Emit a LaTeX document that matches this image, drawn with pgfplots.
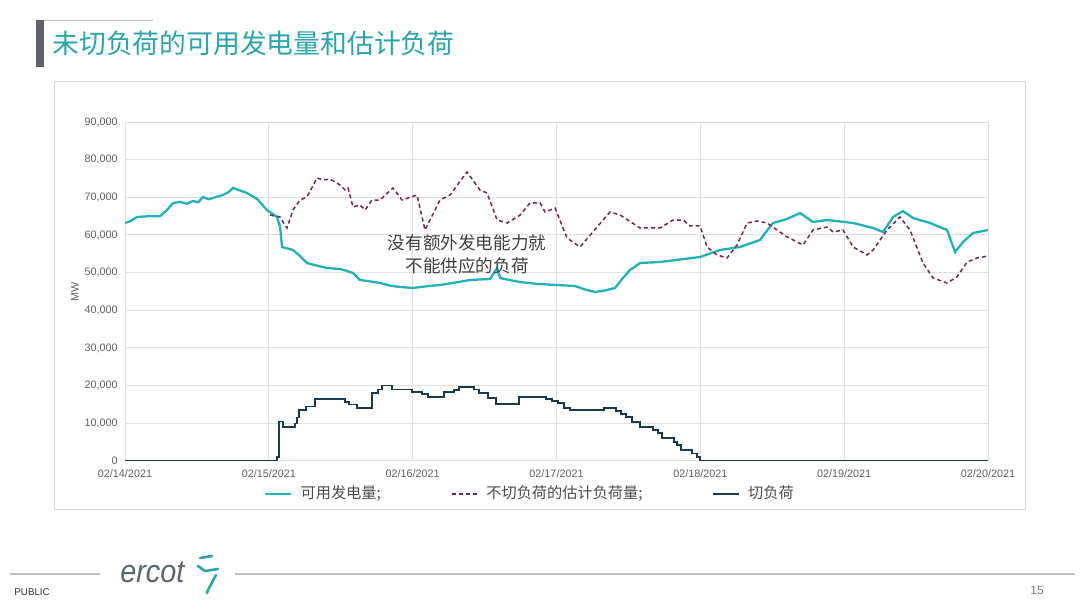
\documentclass[border=0pt]{standalone}
\usepackage{fontspec}
\setmainfont{Liberation Sans}
\newfontfamily\cjk{Noto Sans CJK SC}
\usepackage{pgfplots}
\pgfplotsset{compat=1.18}
\definecolor{cyanA}{HTML}{22B1B4}
\definecolor{loadM}{HTML}{73245A}
\definecolor{shedN}{HTML}{1C3A4F}
\definecolor{gridG}{HTML}{E0E0E0}
\definecolor{tickG}{HTML}{606060}
\definecolor{titleT}{HTML}{2BA5A9}
\definecolor{barG}{HTML}{5F6369}
\definecolor{lineG}{HTML}{BFBFBF}
\definecolor{logoG}{HTML}{5C6670}
\definecolor{frameG}{HTML}{D6D6D6}
\begin{document}
\begin{tikzpicture}
\fill[white] (0,0) rectangle (540pt,304pt);
% title
\fill[barG] (18pt,270.5pt) rectangle (22pt,294pt);
\draw[lineG, line width=0.6pt] (22pt,293.6pt) -- (76.5pt,293.6pt);
\node[anchor=west, inner sep=0pt, text=titleT, font=\cjk\fontsize{13.4pt}{16pt}\selectfont] at (26pt,282.5pt) {未切负荷的可用发电量和估计负荷};
% chart frame
\draw[frameG, line width=0.5pt] (27pt,49pt) rectangle (512.5pt,263pt);
% footer
\draw[lineG, line width=0.6pt] (5pt,17pt) -- (50pt,17pt);
\draw[lineG, line width=0.6pt] (117.5pt,17pt) -- (537.5pt,17pt);
\node[anchor=west, inner sep=0pt, font=\fontsize{4.9pt}{6pt}\selectfont, text=black!80] at (7pt,8pt) {PUBLIC};
\node[anchor=west, inner sep=0pt, font=\fontsize{6pt}{7pt}\selectfont, text=gray] at (515pt,9pt) {15};
\node[anchor=west, inner sep=0pt, font=\itshape\fontsize{16pt}{17pt}\selectfont, text=logoG, xscale=0.9] at (60pt,18pt) {ercot};
\draw[titleT, line width=1.3pt, line cap=round] (100pt,25pt) -- (106pt,26pt);
\draw[titleT, line width=1.3pt, line cap=round, line join=round] (99pt,21pt) -- (102.5pt,18.5pt) -- (109pt,19.5pt);
\draw[titleT, line width=1.3pt, line cap=round, line join=round] (108pt,16.5pt) -- (104pt,9pt) -- (103.5pt,7.5pt);
\begin{axis}[
  at={(62.5pt,73.5pt)}, anchor=south west,
  scale only axis, width=431.5pt, height=169.5pt,
  xmin=0, xmax=6, ymin=0, ymax=90000,
  xtick={0,1,2,3,4,5,6},
  xticklabels={02/14/2021,02/15/2021,02/16/2021,02/17/2021,02/18/2021,02/19/2021,02/20/2021},
  ytick={0,10000,20000,30000,40000,50000,60000,70000,80000,90000},
  scaled y ticks=false,
  /pgf/number format/fixed,
  /pgf/number format/1000 sep={,},
  /pgf/number format/assume math mode=true,
  grid=major, major grid style={draw=gridG, line width=0.5pt},
  axis line style={draw=none},
  major tick length=0pt,
  tick label style={font=\fontsize{5.4pt}{6pt}\selectfont, text=tickG},
  y tick label style={inner sep=0pt, xshift=-3.5pt},
  x tick label style={inner sep=0pt, yshift=-4pt},
  ylabel={MW},
  ylabel style={font=\fontsize{5.4pt}{6pt}\selectfont, text=tickG, at={(axis description cs:-0.058,0.5)}, anchor=center},
  legend columns=3,
  legend style={at={(0.161,-0.097)}, anchor=west, draw=none, fill=none, inner sep=0pt,
    font=\cjk\fontsize{7.6pt}{8.5pt}\selectfont, text=black!70,
    /tikz/every even column/.append style={column sep=33pt}},
  legend image code/.code={\draw[#1] (0pt,0pt) -- (13pt,0pt); \path (15pt,0pt);},
]
\addplot[cyanA, line width=1.15pt] coordinates {
(0.000,63190)(0.040,63700)(0.083,64780)(0.130,64900)(0.174,65000)(0.243,65000)(0.292,66640)(0.334,68500)(0.382,68760)
(0.430,68300)(0.473,69030)(0.510,68700)(0.542,70090)(0.580,69500)(0.612,69820)(0.650,70300)(0.681,70620)(0.720,71400)(0.751,72480)(0.800,71800)
(0.848,71150)(0.918,69560)(0.987,66640)(1.057,64780)(1.078,62120)(1.092,56820)(1.168,56020)(1.220,54300)(1.265,52570)
(1.330,51900)(1.404,51240)(1.495,50970)(1.540,50500)(1.585,49910)(1.634,48050)(1.700,47700)(1.773,47260)(1.850,46500)(1.912,46200)(2.002,45930)
(2.100,46400)(2.190,46730)(2.300,47400)(2.399,48050)(2.470,48200)(2.538,48320)(2.587,51240)(2.608,48580)(2.680,48000)(2.747,47520)(2.870,47000)
(2.997,46730)(3.129,46460)(3.200,45500)(3.268,44870)(3.340,45300)(3.407,45930)(3.460,48500)(3.511,50710)(3.581,52570)(3.720,52830)
(3.860,53500)(3.998,54160)(4.137,56020)(4.276,56820)(4.415,58670)(4.460,61000)(4.505,63190)(4.603,64250)(4.693,65840)(4.783,63450)
(4.881,63980)(5.062,63190)(5.201,61860)(5.270,60800)(5.340,64780)(5.409,66370)(5.479,64510)(5.597,63190)(5.715,61330)
(5.771,55490)(5.830,58300)(5.896,60530)(6.000,61330)};
\addlegendentry{可用发电量;}
\addplot[loadM, line width=0.75pt, dash pattern=on 2pt off 1.5pt] coordinates {
(1.008,65310)(1.078,64780)(1.126,61860)(1.168,66640)(1.217,69290)(1.265,70090)(1.335,75130)(1.377,74600)(1.425,74870)
(1.495,73280)(1.530,71950)(1.551,72480)(1.585,67440)(1.634,67970)(1.669,66640)(1.717,69290)(1.773,69290)(1.863,72480)
(1.926,69290)(2.030,70620)(2.086,61330)(2.190,69290)(2.260,70620)(2.378,76730)(2.468,71950)(2.517,71150)(2.587,63980)
(2.657,63190)(2.747,65310)(2.816,68500)(2.886,68500)(2.920,66110)(2.990,67170)(3.073,59210)(3.164,56820)(3.282,62120)
(3.372,66110)(3.442,65310)(3.581,61860)(3.720,61860)(3.810,63980)(3.880,63980)(3.928,62390)(3.998,62390)(4.047,56820)
(4.116,54690)(4.186,53900)(4.255,57350)(4.325,63190)(4.394,63720)(4.464,63190)(4.533,61330)(4.603,59470)(4.714,57350)
(4.783,61330)(4.881,62120)(4.923,60800)(4.992,61330)(5.062,56820)(5.159,54690)(5.201,56020)(5.298,61330)(5.388,64780)
(5.458,61330)(5.548,52570)(5.618,48580)(5.715,47260)(5.784,48850)(5.854,52830)(5.924,53900)(6.000,54420)};
\addlegendentry{不切负荷的估计负荷量;}
\addplot[shedN, line width=0.8pt, const plot] coordinates {
(0,0)(1.029,0)(1.057,1000)(1.071,10500)(1.099,9000)(1.182,10000)(1.196,11500)(1.210,13500)(1.258,14500)(1.321,16500)
(1.530,15700)(1.557,15000)(1.613,14000)(1.717,18000)(1.759,19000)(1.787,20000)(1.856,19000)(1.996,18300)(2.065,17800)
(2.107,17000)(2.218,18300)(2.287,18800)(2.322,19600)(2.427,19000)(2.461,18000)(2.524,16700)(2.580,15100)(2.739,17000)
(2.927,16500)(2.969,16000)(3.011,15400)(3.052,14000)(3.094,13500)(3.331,14000)(3.414,13300)(3.449,12500)(3.483,11700)
(3.525,10400)(3.581,9000)(3.671,8200)(3.706,7400)(3.734,6100)(3.817,5000)(3.838,4200)(3.866,2900)(3.942,2000)
(3.977,1100)(3.998,0)(6.000,0)};
\addlegendentry{切负荷}
\end{axis}
\node[align=center, inner sep=0pt, text=black!75, font=\cjk\fontsize{8.8pt}{11.5pt}\selectfont] at (233.5pt,177pt) {没有额外发电能力就\\不能供应的负荷};
\end{tikzpicture}
\end{document}
